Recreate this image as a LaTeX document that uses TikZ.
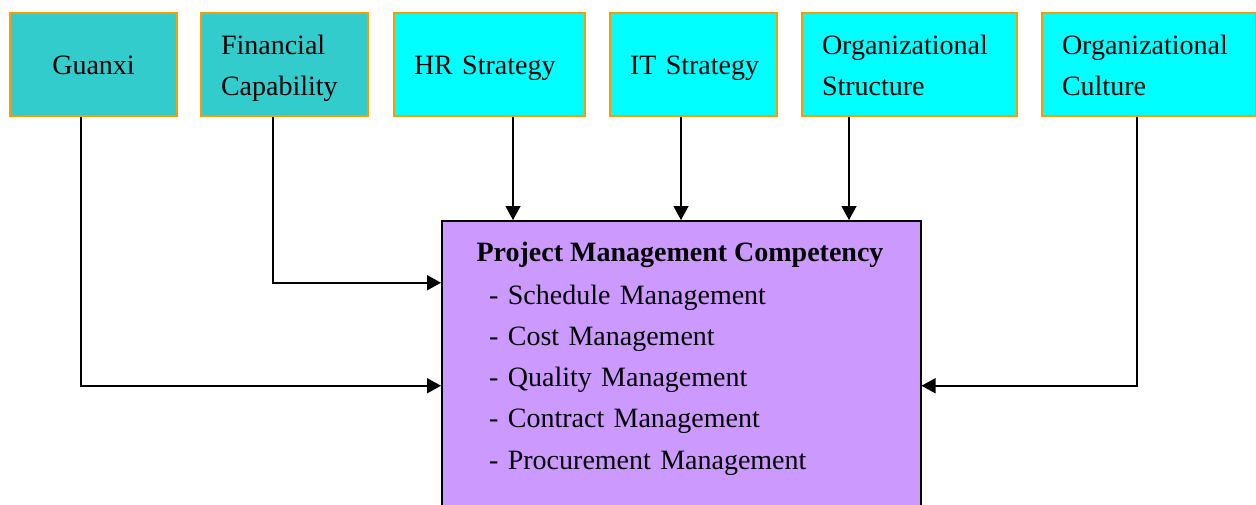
\documentclass[tikz,border=0pt]{standalone}
\usepackage{fontspec}
\setmainfont{Liberation Serif}
\usetikzlibrary{arrows.meta}
\definecolor{tealbox}{HTML}{33CCCC}
\definecolor{cyanbox}{HTML}{00FFFF}
\definecolor{purplebox}{HTML}{CC99FF}
\definecolor{orangeedge}{HTML}{FF9900}
\newcommand{\boxtext}[1]{\leftskip=20pt\relax #1\par}
\begin{document}
\begin{tikzpicture}[x=1pt,y=-1pt,
  topbox/.style={draw=orangeedge, line width=2pt, anchor=north west,
    inner xsep=0pt, inner ysep=0pt, align=left,
    font=\fontsize{28}{41}\selectfont,
    text width=#1, minimum width=#1, minimum height=103pt},
  oneline/.style={text height=61pt, text depth=42pt},
  twoline/.style={text height=41pt, text depth=62pt},
  arr/.style={line width=1.5pt, -{Triangle[length=14pt,width=15pt]}},
  bigfont/.style={font=\fontsize{28}{41.25}\selectfont}]
\clip (0,0) rectangle (1256,504);
\fill[white] (0,0) rectangle (1256,504);
% top boxes
\node[topbox=167pt, oneline, fill=tealbox, align=center] (guanxi) at (9,12) {Guanxi};
\node[topbox=167pt, twoline, fill=tealbox] (fin) at (200,12) {\boxtext{Financial\\Capability}};
\node[topbox=191pt, oneline, fill=cyanbox] (hr) at (393,12) {\boxtext{HR Strategy}};
\node[topbox=167pt, oneline, fill=cyanbox] (it) at (609,12) {\boxtext{IT Strategy}};
\node[topbox=215pt, twoline, fill=cyanbox] (ostr) at (801,12) {\boxtext{Organizational\\Structure}};
\node[topbox=214pt, twoline, fill=cyanbox] (ocul) at (1041,12) {\boxtext{Organizational\\Culture}};
% central box
\node[draw=black, line width=1.5pt, fill=purplebox, anchor=north west,
  minimum width=479pt, minimum height=330pt, inner sep=0pt] (pmc) at (441,220) {};
\node[bigfont, anchor=base] (title) at (680,261) {\textbf{Project Management Competency}};
\node[bigfont, anchor=base west, text width=420pt, align=left, inner sep=0pt] (items) at (489,304)
  {- Schedule Management\\- Cost Management\\- Quality Management\\- Contract Management\\- Procurement Management};
% connectors
\draw[arr] ([xshift=-12.5pt]guanxi.south) |- (pmc.west);
\draw[arr] ([xshift=-11.5pt]fin.south) |- ([yshift=103pt]pmc.west);
\draw[arr] ([xshift=23.5pt]hr.south) -- ([xshift=23.5pt]hr.south |- pmc.north);
\draw[arr] ([xshift=-12.5pt]it.south) -- ([xshift=-12.5pt]it.south |- pmc.north);
\draw[arr] ([xshift=-60.5pt]ostr.south) -- ([xshift=-60.5pt]ostr.south |- pmc.north);
\draw[arr] ([xshift=-12pt]ocul.south) |- (pmc.east);
\end{tikzpicture}
\end{document}
